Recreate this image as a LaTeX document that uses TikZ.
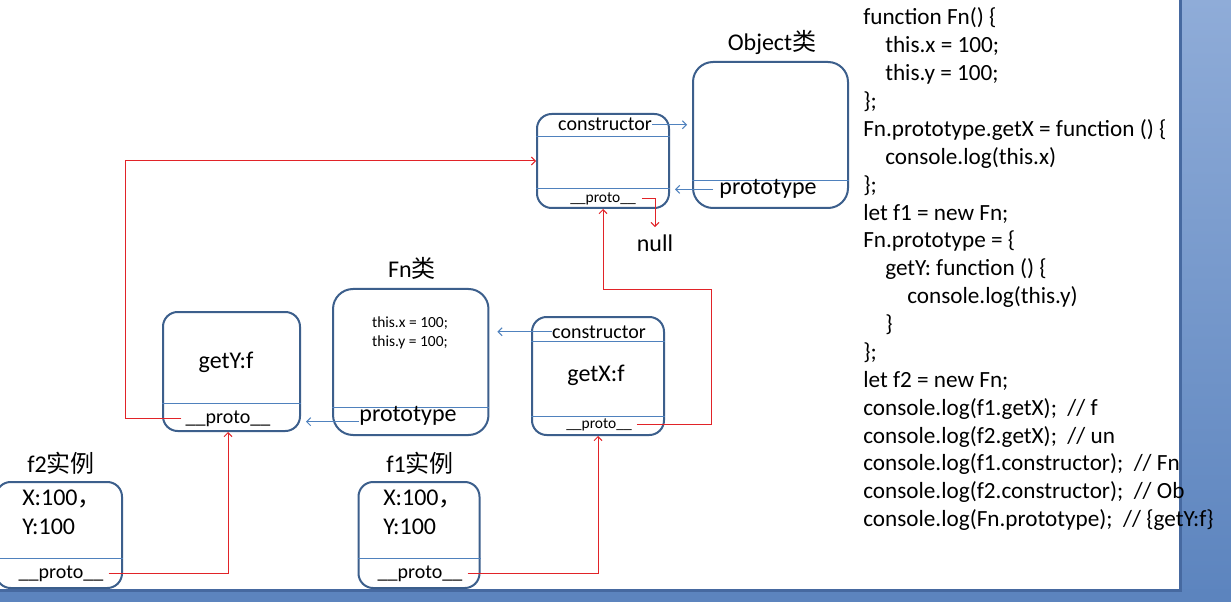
\documentclass[tikz,border=0pt]{standalone}
\usepackage{fontspec}
\setmainfont{Carlito}
\newfontfamily\cjk{Noto Sans CJK SC}
\usepackage{tikz}
\usetikzlibrary{calc,arrows.meta}

\definecolor{boxedge}{RGB}{60,95,140}
\definecolor{boxsep}{RGB}{79,129,189}
\definecolor{ptrblue}{RGB}{80,130,190}
\definecolor{ptrred}{RGB}{225,35,40}
\definecolor{desktop}{RGB}{92,132,190}
\definecolor{desklight}{RGB}{143,172,216}
\definecolor{deskdark}{RGB}{70,105,160}

\begin{document}
\begin{tikzpicture}[x=0.75pt,y=-0.75pt,
    objbox/.style={draw=boxedge,line width=1.5pt,rounded corners=11pt,inner sep=0pt},
    bigbox/.style={objbox,rounded corners=15pt},
    sepline/.style={draw=boxsep,line width=0.75pt},
    txt/.style={inner sep=0pt,font=\fontsize{18}{21}\selectfont},
    midtxt/.style={inner sep=0pt,font=\fontsize{15}{18}\selectfont},
    smalltxt/.style={inner sep=0pt,font=\fontsize{11.6}{14}\selectfont},
    codeline/.style={inner sep=0pt,anchor=base west,font=\fontsize{17.4}{21}\selectfont},
    blueptr/.style={draw=ptrblue,line width=0.75pt,-{Straight Barb[length=3pt,width=6pt]}},
    redptr/.style={draw=ptrred,line width=0.75pt,-{Straight Barb[length=3pt,width=6pt]}}]

% screenshot frame
\useasboundingbox (0,0) rectangle (1231,602);
\fill[white] (0,0) rectangle (1231,602);
\shade[top color=desklight,bottom color=desktop] (1179,0) rectangle (1231,602);
\fill[desktop] (0,589) rectangle (1231,602);
\fill[deskdark] (1179,0) rectangle (1182,592);
\fill[deskdark] (0,589) rectangle (1182,592);

% Object.prototype
\node[objbox,minimum width=99pt,minimum height=70.5pt] (objp) at (603,161) {};
\draw[sepline] (objp.west |- 0,137) -- (objp.east |- 0,137);
\draw[sepline] (objp.west |- 0,189) -- (objp.east |- 0,189);
\node[midtxt,anchor=base] (objpcons) at (605,131) {constructor};
\node[smalltxt,anchor=base] (objpproto) at (603,202.5) {\_\_proto\_\_};

% Object class
\node[bigbox,minimum width=116.25pt,minimum height=109.5pt] (objc) at (770.5,135) {};
\draw[sepline] (objc.west |- 0,181) -- (objc.east |- 0,181);
\node[txt,anchor=base] (objtitle) at (772,51) {Object{\cjk 类}};
\node[txt,anchor=base] (objcproto) at (768,195) {prototype};
\node[txt,anchor=base] (nullval) at (655,252) {null};

% Fn class
\node[bigbox,minimum width=116.6pt,minimum height=109.5pt] (fnc) at (410.75,362) {};
\draw[sepline] (fnc.west |- 0,407) -- (fnc.east |- 0,407);
\node[txt,anchor=base] (fntitle) at (412,277) {Fn{\cjk 类}};
\node[smalltxt,anchor=base] (fnbodyx) at (410,327) {this.x = 100;};
\node[smalltxt,anchor=base] (fnbodyy) at (410,346.5) {this.y = 100;};
\node[txt,anchor=base] (fncproto) at (408,421.7) {prototype};

% new Fn.prototype
\node[objbox,minimum width=102.75pt,minimum height=89.25pt] (newp) at (231.5,371.5) {};
\draw[sepline] (newp.west |- 0,403) -- (newp.east |- 0,403);
\node[txt,anchor=base] (newpgety) at (226,368) {getY:f};
\node[midtxt,anchor=base] (newpproto) at (228,423) {\_\_proto\_\_};

% old Fn.prototype
\node[objbox,minimum width=99pt,minimum height=88.5pt] (oldp) at (598,376) {};
\draw[sepline] (oldp.west |- 0,341) -- (oldp.east |- 0,341);
\draw[sepline] (oldp.west |- 0,416) -- (oldp.east |- 0,416);
\node[midtxt,anchor=base] (oldpcons) at (599,338) {constructor};
\node[txt,anchor=base] (oldpgetx) at (596,381.7) {getX:f};
\node[smalltxt,anchor=base] (oldpproto) at (599,428) {\_\_proto\_\_};

% instances
\node[objbox,minimum width=94.5pt,minimum height=79.5pt] (ftwo) at (59,535) {};
\draw[sepline] (ftwo.west |- 0,558) -- (ftwo.east |- 0,558);
\node[txt,anchor=base] (ftwotitle) at (61,472) {f2{\cjk 实例}};
\node[txt,anchor=base west] (ftwox) at (22,505) {X:100{\cjk ，}};
\node[txt,anchor=base west] (ftwoy) at (22,534) {Y:100};
\node[midtxt,anchor=base] (ftwoproto) at (61,578) {\_\_proto\_\_};

\node[objbox,minimum width=90.75pt,minimum height=79.5pt] (fone) at (419,535) {};
\draw[sepline] (fone.west |- 0,558) -- (fone.east |- 0,558);
\node[txt,anchor=base] (fonetitle) at (420,472) {f1{\cjk 实例}};
\node[txt,anchor=base west] (fonex) at (383,505) {X:100{\cjk ，}};
\node[txt,anchor=base west] (foney) at (383,534) {Y:100};
\node[midtxt,anchor=base] (foneproto) at (420,578) {\_\_proto\_\_};

% constructor / prototype links
\draw[blueptr] (objpcons.east) -- ($(objc.west |- objpcons.east)+(-5,0)$);
\draw[blueptr] ($(objcproto.west)+(-6,0)$) -- ($(objp.east |- objcproto.west)+(5,0)$);
\draw[blueptr] (oldpcons.west) -- ($(fnc.east |- oldpcons.west)+(8,0)$);
\draw[blueptr] (fncproto.base west) -- ($(newp.east |- fncproto.base west)+(5,0)$);

% __proto__ chain
\draw[redptr] ($(newpproto.west)+(-4,0)$) -- ++(-56,0) |- (objp.west);
\draw[redptr] ($(oldpproto.east)+(5,0)$) -| ++(75,-135) -| (objp.south);
\draw[redptr] ($(objpproto.east)+(6,0)$) -| ($(nullval.north)+(0,-8)$);
\draw[redptr] ($(ftwoproto.east)+(5,0)$) -| (newpproto |- newp.south);
\draw[redptr] ($(foneproto.east)+(5,0)$) -| (oldp.south);

% source code
\foreach \ind/\txt [count=\i] in {
    0/{function Fn() \{},
    1/{this.x = 100;},
    1/{this.y = 100;},
    0/{\};},
    0/{Fn.prototype.getX = function () \{},
    1/{console.log(this.x)},
    0/{\};},
    0/{let f1 = new Fn;},
    0/{Fn.prototype = \{},
    1/{getY: function () \{},
    2/{console.log(this.y)},
    1/{\}},
    0/{\};},
    0/{let f2 = new Fn;},
    0/{console.log(f1.getX);\ \ // f},
    0/{console.log(f2.getX);\ \ // un},
    0/{console.log(f1.constructor);\ \ // Fn},
    0/{console.log(f2.constructor);\ \ // Ob},
    0/{console.log(Fn.prototype);\ \ // \{getY:f\}}}
  \node[codeline] (code\i) at ({863+22*\ind},{25+27.87*(\i-1)}) {\txt};

\end{tikzpicture}
\end{document}
